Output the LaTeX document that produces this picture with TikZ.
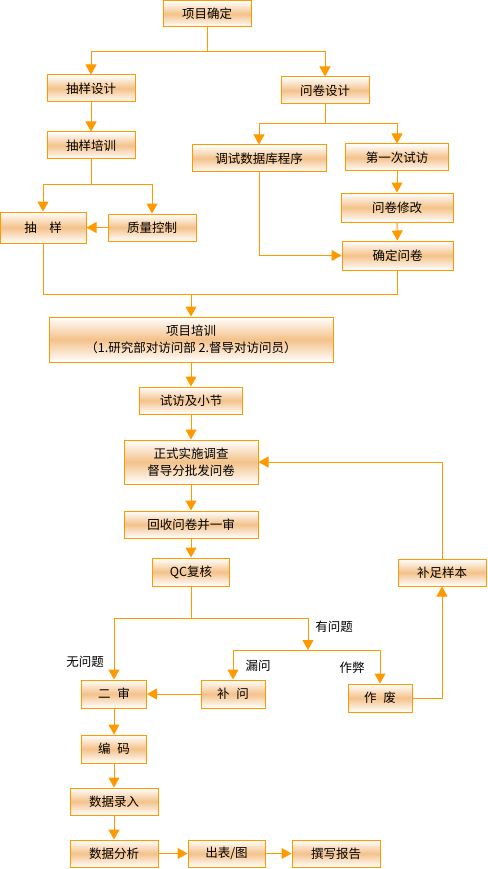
\documentclass[tikz,border=0pt]{standalone}
\usepackage{fontspec}
\setmainfont{Noto Sans CJK SC}
\usetikzlibrary{arrows.meta}
\definecolor{lineorange}{RGB}{255,153,0}
\definecolor{boxpeach}{RGB}{244,194,138}
\tikzset{
  box/.style={draw=lineorange, line width=1pt, top color=white, bottom color=white,
    middle color=boxpeach, inner sep=0pt, align=center,
    font=\fontsize{12.5}{17}\selectfont},
  wh/.style 2 args={minimum width=#1pt, minimum height=#2pt},
  conn/.style={draw=lineorange, line width=1pt},
  arr/.style={conn, -{Triangle[width=11pt,length=10pt]}},
  lbl/.style={inner sep=0pt, font=\fontsize{12.5}{15}\selectfont},
}
\newcommand{\gap}{\hspace{0.55em}}

\begin{document}
\begin{tikzpicture}[x=1pt,y=-1pt]
  \useasboundingbox (0,0) rectangle (487,869);
  % Preparacio
  \node[box, wh={88}{26}]  (xmqd)  at (207,14)    {项目确定};
  \node[box, wh={88}{27}]  (cysj)  at (91,88.5)   {抽样设计};
  \node[box, wh={88}{27}]  (wjsj)  at (325,90.5)  {问卷设计};
  \node[box, wh={88}{27}]  (cypx)  at (91,145.5)  {抽样培训};
  \node[box, wh={134}{27}] (tssjk) at (259,158.5) {调试数据库程序};
  \node[box, wh={103}{27}] (dycsf) at (397,157.5) {第一次试访};
  \node[box, wh={86}{31}]  (cy)    at (43,227.5)  {抽　样};
  \node[box, wh={88}{27}]  (zlkz)  at (152,227.5) {质量控制};
  \node[box, wh={112}{29}] (wjxg)  at (397,207.5) {问卷修改};
  \node[box, wh={111}{29}] (qdwj)  at (397.5,255.5) {确定问卷};
  % Execucio
  \node[box, wh={284}{45}] (xmpx)  at (191,339.5) {项目培训\\（1.研究部对访问部 2.督导对访问员）};
  \node[box, wh={103}{27}] (sfxj)  at (191,400.5) {试访及小节};
  \node[box, wh={134}{44}] (zsss)  at (191,462)   {正式实施调查\\督导分批发问卷};
  \node[box, wh={134}{27}] (hswj)  at (191,524.5) {回收问卷并一审};
  \node[box, wh={77}{28}]  (qc)    at (191,572)   {QC复核};
  \node[box, wh={88}{27}]  (bzyb)  at (442,572.5) {补足样本};
  \node[box, wh={65}{28}]  (es)    at (114,694)   {二\gap 审};
  \node[box, wh={64}{28}]  (bw)    at (233,694)   {补\gap 问};
  \node[box, wh={64}{28}]  (zf)    at (380,698)   {作\gap 废};
  % Dades
  \node[box, wh={65}{28}]  (bm)    at (114,749)   {编\gap 码};
  \node[box, wh={88}{27}]  (sjlr)  at (114,801.5) {数据录入};
  \node[box, wh={88}{27}]  (sjfx)  at (114,853.5) {数据分析};
  \node[box, wh={77}{27}]  (cbt)   at (226.5,853.5) {出表/图};
  \node[box, wh={88}{27}]  (zxbg)  at (336,853.5) {撰写报告};
  % Etiquetes
  \node[lbl] (wwt) at (85,662)  {无问题};
  \node[lbl] (ywt) at (334,627) {有问题};
  \node[lbl] (lw)  at (258,666) {漏问};
  \node[lbl] (zb)  at (352,668) {作弊};
  % Punts de branca
  \coordinate (b1) at (207,51.5);
  \coordinate (b2) at (91,184);
  \coordinate (b3) at (325,124);
  \coordinate (b4) at (191,294);
  \coordinate (b5) at (191,618);
  \coordinate (b6) at (308,650);
  % Connectors
  \draw[arr] (xmqd.south) -- (b1) -| (cysj.north);
  \draw[arr] (b1) -| (wjsj.north);
  \draw[arr] (cysj) -- (cypx);
  \draw[arr] (cypx.south) -- (b2) -| (cy.north);
  \draw[arr] (b2) -| (zlkz.north);
  \draw[arr] (zlkz) -- (cy);
  \draw[arr] (wjsj.south) -- (b3) -| (tssjk.north);
  \draw[arr] (b3) -| (dycsf.north);
  \draw[arr] (dycsf) -- (wjxg);
  \draw[arr] (wjxg) -- (qdwj);
  \draw[arr] (tssjk.south) |- (qdwj.west);
  \draw[conn] (cy.south) |- (b4);
  \draw[conn] (qdwj.south) |- (b4);
  \draw[arr] (b4) -- (xmpx.north);
  \draw[arr] (xmpx) -- (sfxj);
  \draw[arr] (sfxj) -- (zsss);
  \draw[arr] (zsss) -- (hswj);
  \draw[arr] (hswj) -- (qc);
  \draw[arr] (qc.south) -- (b5) -| (es.north);
  \draw[arr] (b5) -| (b6);
  \draw[arr] (b6) -| (bw.north);
  \draw[arr] (b6) -| (zf.north);
  \draw[arr] (bw) -- (es);
  \draw[arr] (zf.east) -| (bzyb.south);
  \draw[arr] (bzyb.north) |- (zsss.east);
  \draw[arr] (es) -- (bm);
  \draw[arr] (bm) -- (sjlr);
  \draw[arr] (sjlr) -- (sjfx);
  \draw[arr] (sjfx) -- (cbt);
  \draw[arr] (cbt) -- (zxbg);
\end{tikzpicture}
\end{document}
